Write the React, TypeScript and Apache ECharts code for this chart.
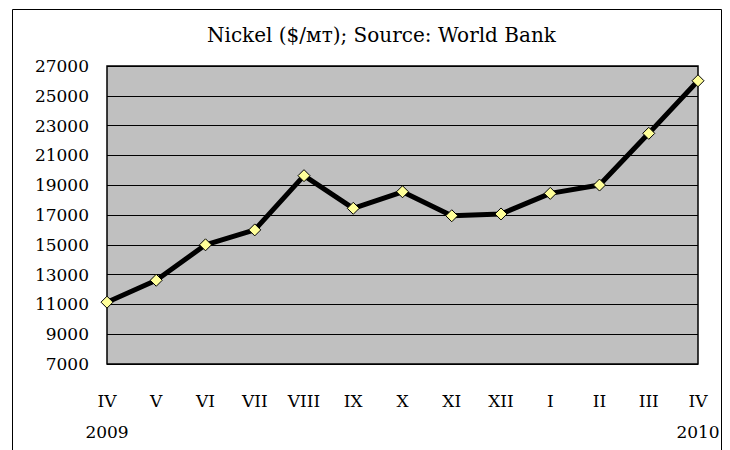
import React, { useEffect, useRef } from "react";
import * as echarts from "echarts";

const categories = ["IV", "V", "VI", "VII", "VIII", "IX", "X", "XI", "XII", "I", "II", "III", "IV"];
const yearLabels = ["2009", "", "", "", "", "", "", "", "", "", "", "", "2010"];
const nickelPrices = [11150, 12620, 15000, 16000, 19640, 17450, 18560, 16950, 17070, 18450, 19010, 22480, 26010];
const yTicks = [7000, 9000, 11000, 13000, 15000, 17000, 19000, 21000, 23000, 25000, 27000];
const titleText = "Nickel ($/мт); Source: World Bank";

const FONT = "'DejaVu Serif', serif";

export default function App() {
  const ref = useRef<HTMLDivElement>(null);
  useEffect(() => {
    if (!ref.current) return;
    const chart = echarts.init(ref.current, null, { renderer: "svg" });
    const labels = categories.map((c, i) => (yearLabels[i] ? c + "\n" + yearLabels[i] : c));
    chart.setOption({
      animation: false,
      backgroundColor: "#ffffff",
      title: {
        text: titleText,
        left: 207,
        top: 25,
        padding: 0,
        textStyle: { fontFamily: FONT, fontSize: 20, fontWeight: "normal", color: "#000" },
      },
      graphic: [
        {
          type: "rect",
          shape: { x: 12.5, y: 9.5, width: 709, height: 470 },
          style: { fill: "none", stroke: "#000", lineWidth: 1 },
          z: 100,
        },
      ],
      grid: {
        left: 107,
        top: 66,
        right: 32,
        bottom: 86,
        show: true,
        backgroundColor: "#c0c0c0",
        borderColor: "#000",
        borderWidth: 1.5,
      },
      xAxis: {
        type: "category",
        data: labels,
        boundaryGap: false,
        axisLine: { show: false },
        axisTick: { show: false },
        splitLine: { show: false },
        axisLabel: {
          interval: 0,
          margin: 21,
          fontFamily: FONT,
          fontSize: 17,
          color: "#000",
          lineHeight: 31,
        },
      },
      yAxis: {
        type: "value",
        min: yTicks[0],
        max: yTicks[yTicks.length - 1],
        interval: 2000,
        axisLine: { show: false },
        axisTick: { show: false },
        splitLine: { show: true, lineStyle: { color: "#000", width: 1 } },
        axisLabel: {
          margin: 18,
          fontFamily: FONT,
          fontSize: 17,
          color: "#000",
          formatter: (v: number) => String(v),
        },
      },
      series: [
        {
          type: "line",
          data: nickelPrices,
          symbol: "diamond",
          symbolSize: 12,
          lineStyle: { color: "#000", width: 5 },
          itemStyle: { color: "#ffff99", borderColor: "#000", borderWidth: 1 },
          z: 5,
        },
      ],
    });
    return () => chart.dispose();
  }, []);
  return (
    <div
      ref={ref}
      style={{ position: "absolute", left: 0, top: 0, width: 730, height: 450 }}
    />
  );
}
